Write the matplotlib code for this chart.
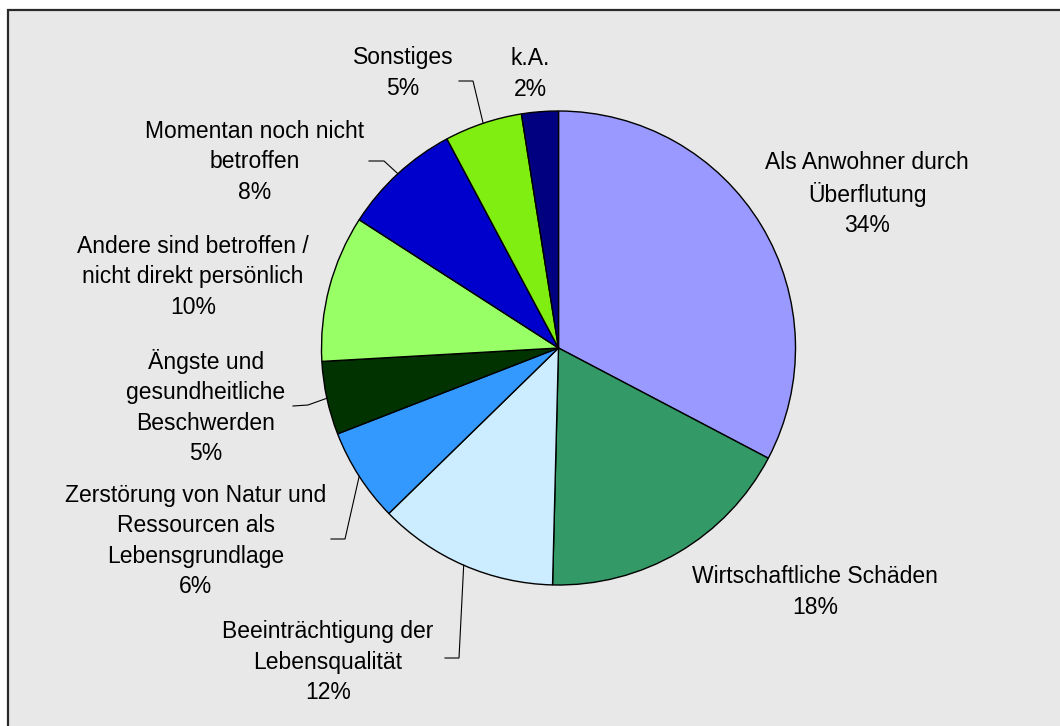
import matplotlib
matplotlib.use("Agg")
import matplotlib.pyplot as plt
from matplotlib.patches import Rectangle
import numpy as np

plt.rcParams['font.family'] = ['Liberation Sans', 'DejaVu Sans']

# ---- data ----
categories = [
    "Als Anwohner durch\nÜberflutung",
    "Wirtschaftliche Schäden",
    "Beeinträchtigung der\nLebensqualität",
    "Zerstörung von Natur und\nRessourcen als\nLebensgrundlage",
    "Ängste und\ngesundheitliche\nBeschwerden",
    "Andere sind betroffen /\nnicht direkt persönlich",
    "Momentan noch nicht\nbetroffen",
    "Sonstiges",
    "k.A.",
]
shares = [32.7, 17.7, 12.3, 6.4, 5.0, 10.0, 8.1, 5.3, 2.5]
pct_labels = ["34%", "18%", "12%", "6%", "5%", "10%", "8%", "5%", "2%"]
colors = ["#9999FF", "#339966", "#CCECFF", "#3399FF", "#003300",
          "#99FF66", "#0000CC", "#80EE10", "#000080"]

# ---- layout (pixel space, y measured from top of image) ----
W, H = 1060, 726
cx, cy, R = 558.5, 348.0, 237.0
label_xy = [(867, 194), (815, 592), (328, 662), (196, 541), (206, 407),
            (193, 277), (255, 162), (403, 73), (530, 74)]
# leader lines: (elbow, end) or None
leaders = [None, None, ((459, 658), (445, 658)), ((345, 539), (331, 539)),
           ((308, 405), (293, 406)), None, ((384, 161), (369, 161)),
           ((473, 81), (459, 81)), None]

fig = plt.figure(figsize=(W / 100, H / 100), dpi=100)
fig.patch.set_facecolor("white")
ax = fig.add_axes([0, 0, 1, 1])
ax.set_xlim(0, W)
ax.set_ylim(0, H)
ax.set_aspect("equal")
ax.axis("off")

def Y(y):
    return H - y

# frame
ax.add_patch(Rectangle((8, Y(10) - 800), 1200, 800, facecolor="#E8E8E8",
                       edgecolor="#2a2a2a", linewidth=1.6, zorder=0))

wedges, _ = ax.pie(shares, colors=colors, startangle=90, counterclock=False,
                   center=(cx, Y(cy)), radius=R, frame=True,
                   wedgeprops=dict(edgecolor="black", linewidth=1.0))
ax.set_xlim(0, W)
ax.set_ylim(0, H)
ax.axis("off")

total = sum(shares)
cum = np.cumsum([0] + shares)
for i, (cat, pct) in enumerate(zip(categories, pct_labels)):
    x, y = label_xy[i]
    ax.text(x, Y(y), cat + "\n" + pct, ha="center", va="center",
            multialignment="center", fontsize=16.5, linespacing=1.4,
            color="black", zorder=5)
    if leaders[i] is not None:
        mid = (cum[i] + cum[i + 1]) / 2 / total * 2 * np.pi
        ex = cx + R * np.sin(mid)
        ey = cy - R * np.cos(mid)
        (bx, by), (tx, ty) = leaders[i]
        ax.plot([ex, bx, tx], [Y(ey), Y(by), Y(ty)], color="black",
                linewidth=0.8, zorder=4, solid_joinstyle="miter")

fig.savefig("out.png", dpi=100, facecolor="white")
